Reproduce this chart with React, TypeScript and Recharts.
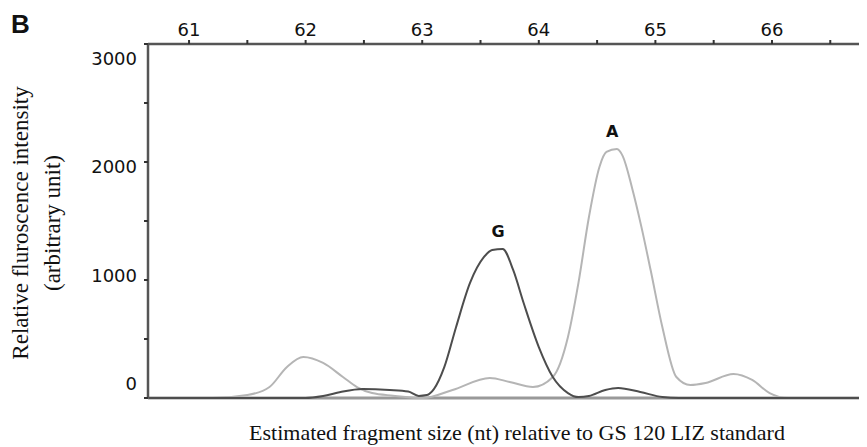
import React from 'react';
import { LineChart, Line, XAxis, YAxis, ReferenceLine, ReferenceDot } from 'recharts';

// light gray trace (A allele)
const sizeA = [60.65, 61.2, 61.5, 61.69, 61.84, 61.98, 62.15, 62.32, 62.44, 62.57, 62.75, 63.01, 63.26, 63.58, 63.75, 63.95, 64.12, 64.25, 64.34, 64.43, 64.52, 64.58, 64.67, 64.72, 64.8, 64.88, 64.96, 65.06, 65.18, 65.3, 65.43, 65.67, 65.83, 65.98, 66.14, 66.82];
const intensityA = [0, 0, 25, 93, 263, 347, 297, 178, 93, 42, 20, 0, 68, 170, 136, 93, 178, 517, 975, 1534, 1958, 2085, 2110, 2050, 1780, 1450, 1080, 600, 178, 110, 127, 203, 153, 42, 0, 0];

// dark gray trace (G allele)
const sizeG = [60.65, 62.0, 62.15, 62.3, 62.49, 62.72, 62.88, 62.97, 63.04, 63.1, 63.19, 63.29, 63.41, 63.53, 63.6, 63.69, 63.78, 63.87, 64.0, 64.12, 64.25, 64.34, 64.43, 64.57, 64.68, 64.87, 65.06, 65.2, 66.82];
const intensityG = [0, 0, 17, 51, 76, 68, 55, 18, 25, 75, 263, 600, 975, 1195, 1254, 1263, 1085, 805, 432, 178, 42, 8, 17, 68, 85, 51, 8, 0, 0];

const xTicks = [61, 61.5, 62, 62.5, 63, 63.5, 64, 64.5, 65, 65.5, 66, 66.5];
const yTicks = [0, 500, 1000, 1500, 2000, 2500, 3000];

const peakNames = ['A', 'G'];
const peakSizes = [64.63, 63.65];
const peakHeights = [2110, 1263];

const dataA = sizeA.map((nt, i) => ({ nt, v: intensityA[i] }));
const dataG = sizeG.map((nt, i) => ({ nt, v: intensityG[i] }));

const tickFont = 'DejaVu Sans, sans-serif';
const serif = 'Liberation Serif, Times New Roman, serif';

const YTick = (props: any) => {
  const { x, y, payload } = props;
  if (payload.value % 1000 !== 0) return <g />;
  const ly = 213 + (y - 213) * 0.92;
  return (
    <text x={x} y={ly} textAnchor="end" dominantBaseline="central" fontSize={18} fontFamily={tickFont} fill="#111">
      {payload.value}
    </text>
  );
};

export default function App() {
  const W = 859;
  const H = 439;
  return (
    <div style={{ position: 'relative', width: W, height: H, background: '#fff' }}>
      <LineChart width={W} height={H} margin={{ top: 0, right: 0, bottom: 49, left: 0 }}>
        <XAxis
          type="number"
          dataKey="nt"
          orientation="top"
          height={36}
          domain={[60.648, 66.815]}
          allowDataOverflow
          ticks={xTicks}
          tickFormatter={(v: number) => (v % 1 === 0 ? String(v) : '')}
          tick={{ fontSize: 18, fontFamily: tickFont, fill: '#111' }}
          tickSize={4}
          tickMargin={4}
          axisLine={{ stroke: '#555', strokeWidth: 2.5 }}
          tickLine={{ stroke: '#333', strokeWidth: 2 }}
        />
        <YAxis
          type="number"
          width={140}
          domain={[0, 3000]}
          ticks={yTicks}
          tick={<YTick />}
          tickSize={4}
          tickMargin={7}
          axisLine={{ stroke: '#555', strokeWidth: 2.5 }}
          tickLine={{ stroke: '#333', strokeWidth: 2 }}
        />
        <ReferenceLine y={0} stroke="#999" strokeWidth={3} />
        <Line data={dataA} dataKey="v" type="monotone" stroke="#b5b5b5" strokeWidth={2} dot={false} isAnimationActive={false} />
        <Line data={dataG} dataKey="v" type="monotone" stroke="#4d4d4d" strokeWidth={2} dot={false} isAnimationActive={false} />
        {peakNames.map((name, i) => (
          <ReferenceDot
            key={name}
            x={peakSizes[i]}
            y={peakHeights[i]}
            r={0}
            stroke="none"
            label={{ value: name, position: 'top', offset: 12, fontSize: 16, fontWeight: 'bold', fontFamily: tickFont, fill: '#111' }}
          />
        ))}
      </LineChart>
      <svg width={W} height={H} style={{ position: 'absolute', left: 0, top: 0, pointerEvents: 'none' }}>
        <text x={3} y={25} fontSize={26} fontWeight="bold" fontFamily="Liberation Sans, Arial, sans-serif" fill="#111">
          B
        </text>
        <text
          x={12}
          y={215}
          transform="rotate(-90 12 215)"
          textAnchor="middle"
          dominantBaseline="central"
          fontSize={23}
          fontFamily={serif}
          fill="#111"
        >
          Relative fluroscence intensity
        </text>
        <text
          x={44}
          y={215}
          transform="rotate(-90 44 215)"
          textAnchor="middle"
          dominantBaseline="central"
          fontSize={23}
          fontFamily={serif}
          fill="#111"
        >
          (arbitrary unit)
        </text>
        <text x={509} y={432} textAnchor="middle" fontSize={22} fontFamily={serif} fill="#111">
          Estimated fragment size (nt) relative to GS 120 LIZ standard
        </text>
      </svg>
    </div>
  );
}
